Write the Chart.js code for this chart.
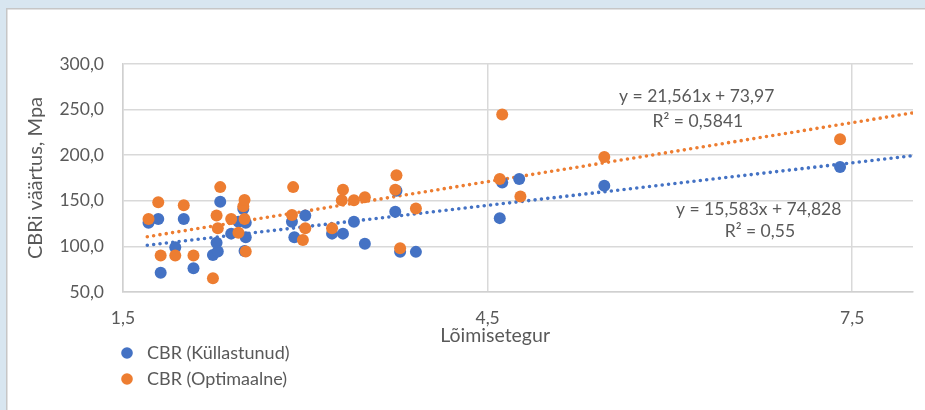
<!DOCTYPE html>
<html>
<head>
<meta charset="utf-8">
<script src="https://cdn.jsdelivr.net/npm/chart.js@4.4.1/dist/chart.umd.min.js"></script>
<style>
  body { margin: 0; background: #ffffff; }
  canvas { display: block; }
</style>
</head>
<body>
<canvas id="grafico" width="925" height="410"></canvas>
<script>
// CBR (Küllastunud) - sinised punktid
let xKyllastunud = [1.71, 1.79, 1.81, 1.93, 2.00, 2.08, 2.24, 2.27, 2.28, 2.30, 2.39, 2.45, 2.49, 2.50, 2.51, 2.51,
    2.89, 2.91, 3.00, 3.22, 3.31, 3.40, 3.49, 3.74, 3.75, 3.78, 3.91, 4.60, 4.62, 4.76, 5.46, 7.40];
let yKyllastunud = [126, 130, 71, 99, 130, 76, 90.5, 104, 94.5, 149, 114, 127, 141, 95, 110, 126,
    127, 110, 134, 114, 114, 127, 103, 138, 161, 94, 94, 131, 170, 174, 166.5, 187];

// CBR (Optimaalne) - oranžid punktid
let xOptimaalne = [1.71, 1.79, 1.81, 1.93, 2.00, 2.08, 2.24, 2.27, 2.28, 2.30, 2.39, 2.45, 2.49, 2.50, 2.50, 2.51,
    2.89, 2.90, 2.98, 3.00, 3.22, 3.30, 3.31, 3.40, 3.49, 3.74, 3.75, 3.78, 3.91, 4.60, 4.62, 4.77, 5.46, 7.40];
let yOptimaalne = [130, 148.5, 90, 90, 145, 90, 65, 134, 120, 165, 130, 115, 144, 151, 130, 94.5,
    134.5, 165, 107, 120, 120, 150.5, 162, 150.5, 154, 162, 178, 98, 141.5, 174, 244.5, 154.7, 198, 217.5];

let xTicks = [1.5, 4.5, 7.5];
let yTicks = [50, 100, 150, 200, 250, 300];

// trendijooned (Exceli võrrandid): kalle, vabaliige
let trendKyllastunud = [15.583, 74.828];
let trendOptimaalne = [21.561, 73.97];
let trendX = [1.7, 8];

let tekstKyllastunud = ['y = 15,583x + 74,828', 'R² = 0,55'];
let tekstOptimaalne = ['y = 21,561x + 73,97', 'R² = 0,5841'];

const sinine = '#4472c4';
const oranz = '#ed7d31';
const hall = '#595959';
const font = 'Lato';

function punktid(xs, ys) {
    return xs.map(function (x, i) { return { x: x, y: ys[i] }; });
}

function trend(k) {
    return trendX.map(function (x) { return { x: x, y: k[0] * x + k[1] }; });
}

function koma(v) {
    return v.toFixed(1).replace('.', ',');
}

// taust: helesinine serv ja valge diagrammiala
const taust = {
    id: 'taust',
    beforeDraw(chart) {
        const c = chart.ctx;
        c.save();
        c.fillStyle = '#d8e6f0';
        c.fillRect(0, 0, chart.width, chart.height);
        c.fillStyle = '#ffffff';
        c.fillRect(7, 9, chart.width - 7, chart.height - 9);
        c.strokeStyle = '#c6c6c6';
        c.lineWidth = 1.5;
        c.beginPath();
        c.moveTo(6.75, chart.height);
        c.lineTo(6.75, 8.75);
        c.lineTo(chart.width, 8.75);
        c.stroke();
        c.restore();
    }
};

// võrrandid, x-telje pealkiri ja legend
const tekstid = {
    id: 'tekstid',
    afterDraw(chart) {
        const c = chart.ctx;
        const x = chart.scales.x;
        const y = chart.scales.y;
        const a = chart.chartArea;
        c.save();
        c.fillStyle = hall;
        c.textAlign = 'center';
        c.textBaseline = 'middle';
        c.font = '17.5px ' + font;
        c.fillText(tekstOptimaalne[0], x.getPixelForValue(6.22), y.getPixelForValue(264));
        c.fillText(tekstOptimaalne[1], x.getPixelForValue(6.23), y.getPixelForValue(237));
        c.fillText(tekstKyllastunud[0], x.getPixelForValue(6.73), y.getPixelForValue(141));
        c.fillText(tekstKyllastunud[1], x.getPixelForValue(6.74), y.getPixelForValue(116.5));

        c.font = '19.5px ' + font;
        c.fillText('Lõimisetegur', a.left + (a.right - a.left) * 0.471, 336);

        // legend
        c.textAlign = 'left';
        c.font = '18px ' + font;
        const sarjad = chart.data.datasets.filter(function (d) { return !d.showLine; });
        sarjad.forEach(function (d, i) {
            const ly = 353 + i * 26;
            c.fillStyle = d.backgroundColor;
            c.beginPath();
            c.arc(127, ly, 5.8, 0, Math.PI * 2);
            c.fill();
            c.fillStyle = hall;
            c.fillText(d.label, 147, ly);
        });
        c.restore();
    }
};

const ctx = document.getElementById('grafico');
new Chart(ctx, {
    type: 'scatter',
    data: {
        datasets: [{
            label: 'CBR (Küllastunud)',
            data: punktid(xKyllastunud, yKyllastunud),
            backgroundColor: sinine,
            borderWidth: 0,
            pointRadius: 6,
            pointHoverRadius: 6,
            order: 2
        }, {
            label: 'CBR (Optimaalne)',
            data: punktid(xOptimaalne, yOptimaalne),
            backgroundColor: oranz,
            borderWidth: 0,
            pointRadius: 6,
            pointHoverRadius: 6,
            order: 1
        }, {
            label: 'Lineaarne (CBR (Küllastunud))',
            data: trend(trendKyllastunud),
            showLine: true,
            borderColor: sinine,
            borderWidth: 3.6,
            borderDash: [0, 6.4],
            borderCapStyle: 'round',
            pointRadius: 0,
            order: 4
        }, {
            label: 'Lineaarne (CBR (Optimaalne))',
            data: trend(trendOptimaalne),
            showLine: true,
            borderColor: oranz,
            borderWidth: 3.6,
            borderDash: [0, 6.4],
            borderCapStyle: 'round',
            pointRadius: 0,
            order: 3
        }]
    },
    options: {
        responsive: false,
        animation: false,
        devicePixelRatio: 1,
        layout: { padding: { left: 8, top: 64, right: 12, bottom: 0 } },
        plugins: {
            legend: { display: false },
            tooltip: { enabled: false }
        },
        scales: {
            x: {
                type: 'linear',
                min: 1.5,
                max: 8,
                afterBuildTicks: function (s) { s.ticks = xTicks.map(function (v) { return { value: v }; }); },
                afterFit: function (s) { s.height = 118; },
                ticks: {
                    padding: 16,
                    color: hall,
                    font: { family: font, size: 17.5 },
                    callback: function (v) { return koma(v); }
                },
                grid: { color: '#d9d9d9', lineWidth: 1.5, drawTicks: false },
                border: { color: '#d0d0d0', width: 1.5 }
            },
            y: {
                min: 50,
                max: 300,
                afterBuildTicks: function (s) { s.ticks = yTicks.map(function (v) { return { value: v }; }); },
                afterFit: function (s) { s.width = 115; },
                ticks: {
                    padding: 19,
                    color: hall,
                    font: { family: font, size: 17.5 },
                    callback: function (v) { return koma(v); }
                },
                grid: { color: '#d9d9d9', lineWidth: 1.5, drawTicks: false },
                border: { color: '#d0d0d0', width: 1.5 },
                title: {
                    display: true,
                    text: 'CBRi väärtus, Mpa',
                    color: hall,
                    font: { family: font, size: 20 },
                    padding: { top: 16, bottom: 0 }
                }
            }
        }
    },
    plugins: [taust, tekstid]
});
</script>
</body>
</html>
